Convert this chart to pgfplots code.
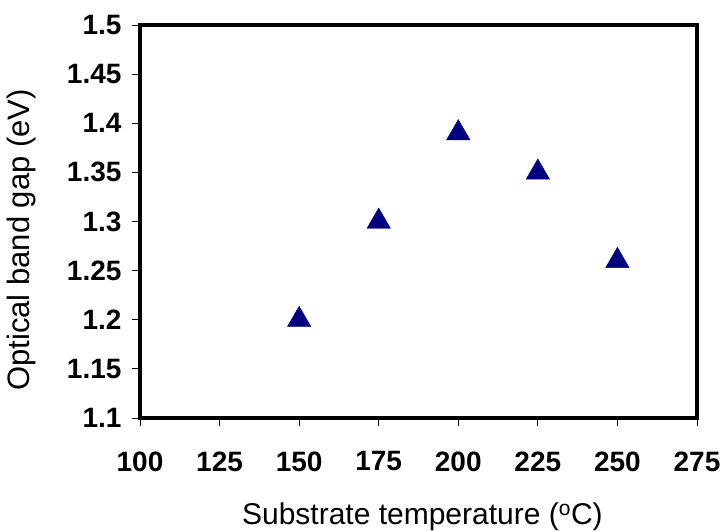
\documentclass[border=0pt]{standalone}
\usepackage{fontspec}
\setmainfont{Liberation Sans}
\usepackage{pgfplots}
\pgfplotsset{compat=1.18}
\definecolor{navy}{RGB}{0,0,128}
\begin{document}
\begin{tikzpicture}
\path[use as bounding box] (-140pt,-113pt) rectangle (586pt,418pt);
\begin{axis}[
  at={(0,0)}, anchor=south west,
  scale only axis=true,
  width=557pt, height=393pt,
  xmin=100, xmax=275, ymin=1.1, ymax=1.5,
  xtick={100,125,...,275},
  ytick={1.1,1.15,1.2,1.25,1.3,1.35,1.4,1.45,1.5},
  yticklabels={1.1,1.15,1.2,1.25,1.3,1.35,1.4,1.45,1.5},
  axis line style={line width=4.5pt},
  tick style={black, line width=0.8pt},
  tick align=outside,
  major tick length=8pt,
  xtick pos=bottom, ytick pos=left,
  /pgf/number format/assume math mode=true,
  tick label style={font=\fontsize{28}{31}\selectfont\bfseries},
  xticklabel style={yshift=-22pt},
  yticklabel style={xshift=-7pt},
  xlabel={Substrate temperature (\textsuperscript{o}C)},
  ylabel={Optical band gap (eV)},
  xlabel style={font=\fontsize{30}{34}\selectfont, at={(axis description cs:0.507,-0.270)}, anchor=base},
  ylabel style={font=\fontsize{31}{35}\selectfont, at={(axis description cs:-0.181,0.453)}, anchor=south},
  clip=false,
]
\addplot[only marks, mark=triangle*, mark size=13.5pt, color=navy] coordinates {
  (150,1.2) (175,1.3) (200,1.39) (225,1.35) (250,1.26)
};
\end{axis}
\end{tikzpicture}
\end{document}
